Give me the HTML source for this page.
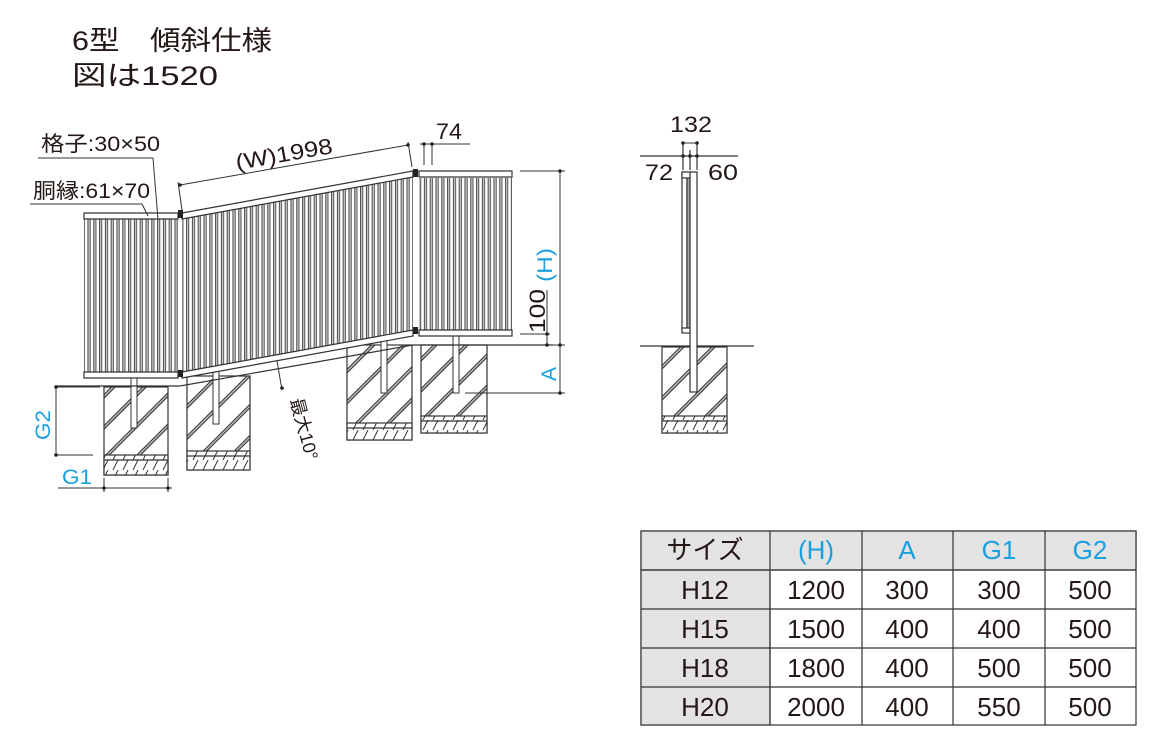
<!DOCTYPE html>
<html><head><meta charset="utf-8"><style>
body{margin:0;background:#fff;width:1164px;height:748px;overflow:hidden}
svg{display:block}
text{font-family:"Liberation Sans","Noto Sans CJK JP",sans-serif;fill:#231815}
.b{fill:#1a9fdf}
</style></head><body>
<svg width="1164" height="748" viewBox="0 0 1164 748">
<defs>
<pattern id="sl" width="5.8" height="10" patternUnits="userSpaceOnUse">
<rect x="0" y="0" width="5.8" height="10" fill="#fff"/>
<rect x="0.5" y="0" width="0.9" height="10" fill="#333"/>
<rect x="1.4" y="0" width="1.4" height="10" fill="#c4c4c4"/>
<rect x="2.8" y="0" width="0.8" height="10" fill="#333"/>
</pattern>
<pattern id="ht" width="22" height="22" patternUnits="userSpaceOnUse" patternTransform="rotate(-45)">
<rect width="22" height="22" fill="#fff"/>
<rect x="0" y="0" width="22" height="1.2" fill="#333"/>
<rect x="0" y="2.4" width="22" height="1.2" fill="#333"/>
<rect x="0" y="1.2" width="22" height="1.2" fill="#bbb"/>
</pattern>
<pattern id="gv" width="10" height="10" patternUnits="userSpaceOnUse">
<rect width="10" height="10" fill="#fff"/>
<line x1="3" y1="10" x2="8" y2="0" stroke="#333" stroke-width="1"/>
</pattern>
</defs>

<text x="72" y="50" font-size="27" textLength="200" lengthAdjust="spacingAndGlyphs">6型　傾斜仕様</text>
<text x="72" y="85" font-size="27" textLength="146" lengthAdjust="spacingAndGlyphs">図は1520</text>

<!-- footings -->
<g stroke="#333" stroke-width="1.2">
<rect x="104" y="387" width="64" height="88" fill="url(#ht)"/>
<rect x="104" y="455" width="64" height="20" fill="url(#gv)"/>
<line x1="104" y1="460" x2="168" y2="460"/>
<rect x="187" y="376" width="63" height="94" fill="url(#ht)"/>
<rect x="187" y="451" width="63" height="19" fill="url(#gv)"/>
<line x1="187" y1="456" x2="250" y2="456"/>
<rect x="347" y="345" width="65" height="95" fill="url(#ht)"/>
<rect x="347" y="423" width="65" height="17" fill="url(#gv)"/>
<line x1="347" y1="428" x2="412" y2="428"/>
<rect x="421" y="345" width="66" height="88" fill="url(#ht)"/>
<rect x="421" y="416" width="66" height="17" fill="url(#gv)"/>
<line x1="421" y1="421" x2="487" y2="421"/>
</g>
<g fill="#fff" stroke="#333" stroke-width="1">
<rect x="131" y="376" width="6" height="52"/>
<rect x="213" y="370" width="6" height="54"/>
<rect x="381" y="335" width="6" height="58"/>
<rect x="453" y="335" width="6" height="58"/>
</g>

<g stroke="#333" stroke-width="1.2" fill="none">
<line x1="55" y1="386" x2="180" y2="386"/>
<line x1="180" y1="386" x2="413" y2="345"/>
<line x1="413" y1="345" x2="553" y2="345"/>
</g>

<rect x="84" y="219" width="94" height="153" fill="url(#sl)"/>
<polygon points="182,218 413,176 413,333 182,374" fill="url(#sl)"/>
<rect x="419" y="178" width="93" height="152" fill="url(#sl)"/>
<g stroke="#333" stroke-width="1.2" fill="#fff">
<polygon points="84,213 178,213 178,219 84,219"/>
<polygon points="84,372 178,372 178,378 84,378"/>
<polygon points="182,213 413,171 413,177 182,219"/>
<polygon points="182,372 413,330 413,336 182,378"/>
<polygon points="419,171 512,171 512,177 419,177"/>
<polygon points="419,330 512,330 512,336 419,336"/>
</g>
<g fill="#222">
<rect x="178" y="210" width="5" height="8"/><rect x="178" y="370" width="5" height="7"/>
<rect x="413" y="169" width="5" height="8"/><rect x="413" y="327" width="5" height="7"/>
</g>

<g stroke="#333" stroke-width="1" fill="none">
<line x1="38" y1="158" x2="153" y2="158"/><line x1="153" y1="158" x2="158" y2="220"/>
<line x1="30" y1="204" x2="142" y2="204"/><line x1="142" y1="204" x2="148" y2="216"/>
<line x1="180" y1="185" x2="408" y2="145"/>
<line x1="178" y1="182" x2="182" y2="210"/><line x1="408" y1="142" x2="412" y2="167"/>
<line x1="424" y1="143" x2="424" y2="165"/><line x1="432" y1="143" x2="432" y2="165"/>
<line x1="420" y1="144" x2="470" y2="144"/>
<line x1="520" y1="171" x2="565" y2="171"/>
<line x1="560" y1="171" x2="560" y2="393"/>
<line x1="520" y1="334" x2="550" y2="334"/>
<line x1="530" y1="345" x2="565" y2="345"/>
<line x1="547" y1="290" x2="547" y2="345"/>
<line x1="465" y1="393" x2="565" y2="393"/>
<line x1="56" y1="387" x2="56" y2="455"/>
<line x1="56" y1="455" x2="93" y2="455"/>
<line x1="56" y1="387" x2="100" y2="387"/>
<line x1="58" y1="488" x2="172" y2="488"/>
<line x1="104" y1="478" x2="104" y2="492"/><line x1="168" y1="478" x2="168" y2="492"/>
<line x1="277" y1="361" x2="282" y2="390"/>
</g>
<g fill="#222">
<circle cx="180" cy="185" r="1.8"/><circle cx="408" cy="145" r="1.8"/>
<circle cx="424" cy="144" r="1.8"/><circle cx="432" cy="144" r="1.8"/>
<circle cx="560" cy="171" r="1.8"/><circle cx="560" cy="345" r="1.8"/><circle cx="560" cy="393" r="1.8"/>
<circle cx="547" cy="334" r="1.8"/><circle cx="547" cy="345" r="1.8"/>
<circle cx="56" cy="387" r="1.8"/><circle cx="56" cy="455" r="1.8"/>
<circle cx="104" cy="488" r="1.8"/><circle cx="168" cy="488" r="1.8"/>
<circle cx="282" cy="388" r="1.8"/>
</g>
<text x="41" y="151" font-size="21" textLength="119" lengthAdjust="spacingAndGlyphs">格子:30×50</text>
<text x="33" y="198" font-size="21" textLength="117" lengthAdjust="spacingAndGlyphs">胴縁:61×70</text>
<text x="237" y="170" font-size="22" textLength="98" lengthAdjust="spacingAndGlyphs" transform="rotate(-10 237 170)">(W)1998</text>
<text x="436" y="139" font-size="22" textLength="26" lengthAdjust="spacingAndGlyphs">74</text>
<text x="0" y="0" font-size="21" class="b" textLength="34" lengthAdjust="spacingAndGlyphs" transform="translate(552,282) rotate(-90)">(H)</text>
<text x="0" y="0" font-size="22" textLength="44" lengthAdjust="spacingAndGlyphs" transform="translate(545,333) rotate(-90)">100</text>
<text x="0" y="0" font-size="21" class="b" transform="translate(556,381) rotate(-90)">A</text>
<text x="0" y="0" font-size="21" class="b" textLength="30" lengthAdjust="spacingAndGlyphs" transform="translate(50,440) rotate(-90)">G2</text>
<text x="62" y="484" font-size="21" class="b" textLength="30" lengthAdjust="spacingAndGlyphs">G1</text>
<text x="0" y="0" font-size="18" transform="translate(290,400) rotate(75)">最大10°</text>

<!-- side view -->
<g stroke="#333" stroke-width="1.2">
<line x1="640" y1="156" x2="738" y2="156"/>
<line x1="683" y1="143" x2="683" y2="170"/><line x1="697" y1="143" x2="697" y2="170"/><line x1="690" y1="150" x2="690" y2="170"/>
<line x1="683" y1="143" x2="697" y2="143" stroke-width="1"/>
<line x1="640" y1="346" x2="754" y2="346"/>
<rect x="662" y="347" width="65" height="86" fill="url(#ht)"/>
<rect x="662" y="416" width="65" height="17" fill="url(#gv)"/>
<line x1="662" y1="421" x2="727" y2="421"/>
<rect x="682" y="172" width="5" height="160" fill="#fff"/>
<rect x="687" y="174" width="3" height="155" fill="#aaa"/>
<rect x="690" y="172" width="7" height="220" fill="#fff"/>
<rect x="682" y="172" width="8" height="6" fill="#fff"/>
<rect x="682" y="328" width="8" height="5" fill="#fff"/>
</g>
<g fill="#222"><circle cx="683" cy="143" r="1.8"/><circle cx="697" cy="143" r="1.8"/><circle cx="683" cy="156" r="1.8"/><circle cx="690" cy="156" r="1.8"/><circle cx="697" cy="156" r="1.8"/></g>
<text x="670" y="132" font-size="22" textLength="42" lengthAdjust="spacingAndGlyphs">132</text>
<text x="645" y="180" font-size="22" textLength="28" lengthAdjust="spacingAndGlyphs">72</text>
<text x="708" y="180" font-size="22" textLength="30" lengthAdjust="spacingAndGlyphs">60</text>

<!-- table -->
<g stroke="#333" stroke-width="1.2">
<rect x="641" y="531" width="495" height="194" fill="#fff"/>
<rect x="641" y="531" width="495" height="39" fill="#e3e3e3"/>
<rect x="641" y="570" width="129" height="155" fill="#e3e3e3"/>
<line x1="641" y1="570" x2="1136" y2="570"/><line x1="641" y1="609" x2="1136" y2="609"/>
<line x1="641" y1="648" x2="1136" y2="648"/><line x1="641" y1="687" x2="1136" y2="687"/>
<line x1="770" y1="531" x2="770" y2="725"/><line x1="862" y1="531" x2="862" y2="725"/>
<line x1="953" y1="531" x2="953" y2="725"/><line x1="1045" y1="531" x2="1045" y2="725"/>
</g>
<g font-size="26" text-anchor="middle">
<text x="705" y="559">サイズ</text>
<text x="816" y="559" class="b">(H)</text><text x="907" y="559" class="b">A</text><text x="999" y="559" class="b">G1</text><text x="1090" y="559" class="b">G2</text>
<text x="705" y="599">H12</text><text x="816" y="599">1200</text><text x="907" y="599">300</text><text x="999" y="599">300</text><text x="1090" y="599">500</text>
<text x="705" y="638">H15</text><text x="816" y="638">1500</text><text x="907" y="638">400</text><text x="999" y="638">400</text><text x="1090" y="638">500</text>
<text x="705" y="677">H18</text><text x="816" y="677">1800</text><text x="907" y="677">400</text><text x="999" y="677">500</text><text x="1090" y="677">500</text>
<text x="705" y="716">H20</text><text x="816" y="716">2000</text><text x="907" y="716">400</text><text x="999" y="716">550</text><text x="1090" y="716">500</text>
</g>
</svg>
</body></html>
